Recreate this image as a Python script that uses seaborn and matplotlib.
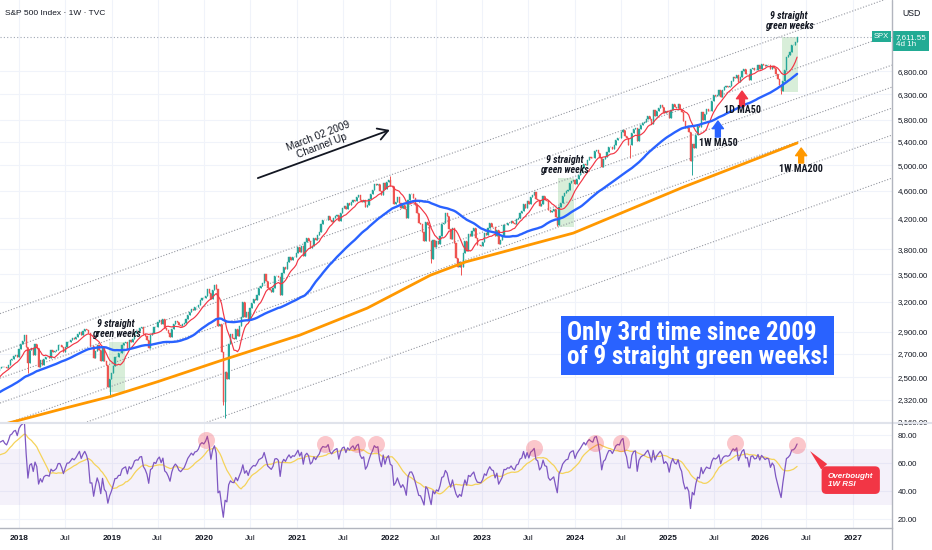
import matplotlib
matplotlib.use('Agg')
import matplotlib.pyplot as plt
import matplotlib.dates as mdates
from matplotlib import font_manager as fm
from matplotlib.lines import Line2D
from matplotlib.ticker import NullLocator
import seaborn as sns
import pandas as pd
import numpy as np

#%% weekly closes (S&P 500, one list per calendar year, weeks end on Friday)
closes_2016 = [2153, 2133, 2141, 2126, 2085, 2164, 2182, 2213, 2192, 2259, 2258, 2264, 2239]
closes_2017 = [2277, 2275, 2271, 2295, 2297, 2316, 2351, 2367, 2383, 2372, 2378, 2344, 2363,
               2355, 2329, 2349, 2384, 2399, 2390, 2382, 2416, 2439, 2432, 2433, 2438, 2423,
               2425, 2459, 2473, 2472, 2477, 2441, 2426, 2443, 2477, 2461, 2500, 2502, 2519,
               2549, 2553, 2575, 2581, 2588, 2582, 2579, 2603, 2642, 2652, 2676, 2684, 2674]
closes_2018 = [2743, 2786, 2810, 2873, 2762, 2620, 2732, 2747, 2691, 2786, 2752, 2588, 2641,
               2604, 2656, 2670, 2670, 2663, 2728, 2713, 2721, 2735, 2779, 2780, 2755, 2718,
               2760, 2801, 2802, 2819, 2840, 2833, 2850, 2875, 2902, 2872, 2905, 2930, 2914,
               2886, 2767, 2768, 2659, 2723, 2781, 2736, 2633, 2760, 2633, 2600, 2417, 2486]
closes_2019 = [2532, 2596, 2671, 2673, 2707, 2708, 2776, 2793, 2804, 2743, 2822, 2801, 2834,
               2893, 2907, 2905, 2940, 2946, 2881, 2860, 2826, 2752, 2873, 2887, 2950, 2942,
               2990, 3014, 2977, 3026, 2932, 2919, 2889, 2847, 2926, 2979, 3007, 2992, 2962,
               2952, 2970, 2986, 3023, 3067, 3093, 3120, 3110, 3141, 3146, 3169, 3221, 3240]
closes_2020 = [3235, 3265, 3330, 3295, 3226, 3328, 3380, 3338, 2954, 2972, 2711, 2305, 2541,
               2489, 2790, 2875, 2837, 2831, 2930, 2864, 2955, 3044, 3194, 3041, 3098, 3009,
               3130, 3185, 3225, 3216, 3271, 3351, 3373, 3397, 3508, 3427, 3341, 3319, 3298,
               3348, 3477, 3484, 3465, 3270, 3510, 3585, 3558, 3638, 3699, 3663, 3709, 3703, 3756]
closes_2021 = [3825, 3768, 3841, 3714, 3887, 3934, 3907, 3811, 3842, 3943, 3913, 3975, 4020,
               4129, 4185, 4180, 4181, 4233, 4174, 4156, 4204, 4230, 4247, 4166, 4281, 4352,
               4370, 4327, 4412, 4395, 4437, 4468, 4442, 4509, 4535, 4459, 4433, 4455, 4357,
               4391, 4471, 4545, 4605, 4697, 4683, 4698, 4595, 4538, 4712, 4621, 4726, 4766]
closes_2022 = [4677, 4663, 4398, 4432, 4500, 4419, 4349, 4385, 4329, 4204, 4463, 4543, 4546,
               4488, 4392, 4272, 4132, 4123, 4024, 3901, 4158, 4109, 3901, 3675, 3912, 3825,
               3899, 3863, 3962, 4130, 4145, 4280, 4228, 4058, 3924, 4067, 3873, 3693, 3586,
               3640, 3583, 3752, 3901, 3771, 3993, 3965, 4026, 4072, 3934, 3852, 3845, 3840]
closes_2023 = [3895, 3999, 3973, 4071, 4136, 4090, 4079, 3970, 4046, 3862, 3917, 3971, 4109,
               4105, 4138, 4133, 4169, 4136, 4124, 4192, 4205, 4282, 4299, 4410, 4348, 4450,
               4399, 4505, 4536, 4582, 4478, 4464, 4370, 4406, 4516, 4457, 4450, 4320, 4288,
               4308, 4327, 4224, 4117, 4358, 4415, 4514, 4559, 4595, 4604, 4719, 4755, 4770]
closes_2024 = [4697, 4784, 4840, 4891, 4959, 5027, 5006, 5089, 5137, 5124, 5117, 5234, 5254,
               5204, 5123, 4967, 5100, 5128, 5223, 5303, 5305, 5278, 5347, 5432, 5465, 5460,
               5567, 5615, 5505, 5459, 5346, 5344, 5554, 5634, 5648, 5408, 5626, 5703, 5738,
               5751, 5815, 5864, 5808, 5729, 5996, 5870, 5969, 6032, 6090, 6051, 5931, 5971]
closes_2025 = [5942, 5827, 5997, 6101, 6041, 6026, 6115, 6013, 5955, 5770, 5639, 5668, 5581,
               5074, 5363, 5283, 5525, 5687, 5660, 5958, 5803, 5912, 6000, 5977, 5968, 6173,
               6279, 6260, 6297, 6389, 6238, 6389, 6450, 6467, 6460, 6482, 6584, 6664, 6644,
               6716, 6553, 6664, 6792, 6840, 6729, 6734, 6603, 6849, 6870, 6827, 6835, 6930]
closes_2026 = [6858, 6966, 6940, 6915, 6939, 6932, 6836, 6909, 6878, 6740, 6632, 6506, 6369,
               6582, 6817, 7126, 7165, 7230, 7399, 7408, 7473, 7611.55]
last_week = '2026-05-25'

# long weekly wicks (week start, extreme price)
wick_dates = ['2018-02-05', '2018-12-24', '2020-02-17', '2020-03-16', '2020-03-23', '2022-01-03',
              '2022-06-13', '2022-10-10', '2023-10-23', '2024-08-05', '2025-04-07', '2026-03-23']
wick_prices = [2533, 2346, 3393, 2280, 2191, 4818, 3637, 3491, 4104, 5119, 4835, 6320]

# 1W MA200
ma200_dates = ['2017-10-16', '2018-06-29', '2018-12-24', '2019-07-01', '2020-03-02', '2021-01-11',
               '2021-10-04', '2022-06-10', '2022-10-27', '2023-12-25', '2025-03-03', '2026-05-25']
ma200_values = [2135, 2258, 2345, 2463, 2636, 2868, 3133, 3489, 3644, 4004, 4654, 5375]

# channel lines: price at left and right edge of the chart
chan_start_date = '2017-10-18'
chan_end_date = '2027-06-03'
chan_start = [3077, 2713, 2492, 2297, 2131, 1951, 1695]
chan_end = [8664, 7674, 6935, 6454, 6026, 5517, 4793]

# 9 straight green weeks zones
zone_start = ['2018-12-20', '2023-10-26', '2026-03-25']
zone_end = ['2019-02-24', '2023-12-29', '2026-05-27']
zone_low = [2383, 4083, 6350]
zone_high = [2806, 4793, 7611]
zone_label_date = ['2019-01-18', '2023-11-22', '2026-04-23']
zone_label_price = [2928, 5003, 8007]

# RSI overbought circles
circle_dates = ['2020-01-06', '2021-04-19', '2021-08-23', '2021-11-08', '2023-07-24',
                '2024-03-18', '2024-07-01', '2025-09-22', '2026-05-25']
circle_rsi = [76.4, 73.4, 73.4, 73.4, 70.9, 74.0, 74.0, 74.0, 72.9]

price_ticks = [2160, 2320, 2500, 2700, 2900, 3200, 3500, 3800, 4200, 4600, 5000, 5400, 5800, 6300, 6800]
rsi_ticks = [20, 40, 60, 80]
tick_dates = ['2018-01-01', '2018-07-01', '2019-01-01', '2019-07-01', '2020-01-01', '2020-07-01',
              '2021-01-01', '2021-07-01', '2022-01-01', '2022-07-01', '2023-01-01', '2023-07-01',
              '2024-01-01', '2024-07-01', '2025-01-01', '2025-07-01', '2026-01-01', '2026-07-01',
              '2027-01-01']
tick_labels = ['2018', 'Jul', '2019', 'Jul', '2020', 'Jul', '2021', 'Jul', '2022', 'Jul', '2023', 'Jul',
               '2024', 'Jul', '2025', 'Jul', '2026', 'Jul', '2027']

#%% build the frame
closes = (closes_2016 + closes_2017 + closes_2018 + closes_2019 + closes_2020 + closes_2021
          + closes_2022 + closes_2023 + closes_2024 + closes_2025 + closes_2026)
df = pd.DataFrame({'date': pd.date_range(end=last_week, periods=len(closes), freq='W-MON'),
                   'close': closes})
df['open'] = df['close'].shift(1).fillna(df['close'])
df['low'] = df[['open', 'close']].min(axis=1)
df['high'] = df[['open', 'close']].max(axis=1)
for wd, wp in zip(wick_dates, wick_prices):
    i = df['date'].searchsorted(pd.Timestamp(wd))
    df.loc[i, 'low'] = min(df.loc[i, 'low'], wp)
    df.loc[i, 'high'] = max(df.loc[i, 'high'], wp)
df['ma10'] = df['close'].rolling(10).mean()
df['ma50'] = df['close'].rolling(50).mean()
delta = df['close'].diff()
gain = delta.clip(lower=0).ewm(alpha=1/14, adjust=False).mean()
loss = (-delta.clip(upper=0)).ewm(alpha=1/14, adjust=False).mean()
df['rsi'] = 100 - 100 / (1 + gain / loss)
df['rsi_ma'] = df['rsi'].rolling(14).mean()


def d(s):
    return mdates.date2num(pd.Timestamp(s))


#%% fonts: a narrow face if one is installed, else plain Liberation Sans a bit smaller
sns.set_theme(style='white')
plt.rcParams['font.family'] = ['Liberation Sans', 'DejaVu Sans']
installed = {f.name for f in fm.fontManager.ttflist}
narrow_pick = [n for n in ['Liberation Sans Narrow', 'Roboto Condensed', 'Open Sans Condensed',
                           'Noto Sans Condensed', 'Ubuntu Condensed'] if n in installed]
if narrow_pick:
    narrow, k = [narrow_pick[0], 'DejaVu Sans'], 1.0
else:
    narrow, k = ['Liberation Sans', 'DejaVu Sans'], 0.84

ink = '#131722'
W, H = 932, 550
fig = plt.figure(figsize=(9.32, 5.5), dpi=100)
ax = fig.add_axes([0, 1 - 423 / H, 892 / W, 423 / H])
ax2 = fig.add_axes([0, 1 - 528 / H, 892 / W, 105 / H], sharex=ax)

green, red = '#26a69a', '#ef5350'
col = np.where(df['close'] >= df['open'], green, red)
ax.vlines(df['date'], df['low'], df['high'], colors=col, lw=0.7, zorder=3)
ax.bar(df['date'], (df['close'] - df['open']).abs(), bottom=df[['open', 'close']].min(axis=1),
       width=4.5, color=col, lw=0.3, edgecolor=col, zorder=3)

sns.lineplot(data=df, x='date', y='ma10', ax=ax, color='#f23645', lw=0.85, zorder=4)
sns.lineplot(data=df, x='date', y='ma50', ax=ax, color='#2962ff', lw=1.7, zorder=4)
sns.lineplot(x=pd.to_datetime(ma200_dates), y=ma200_values, ax=ax, color='#ff9800', lw=2, zorder=4)

# channel levels, all dotted
for s, e in zip(chan_start, chan_end):
    ax.plot([d(chan_start_date), d(chan_end_date)], [s, e], color='#9598a1', lw=0.8,
            ls=(0, (1, 1.6)), zorder=2)

for s, e, lo, hi in zip(zone_start, zone_end, zone_low, zone_high):
    ax.fill_between([d(s), d(e)], lo, hi, color='#81c784', alpha=0.3, lw=0, zorder=1)
for ld, lp in zip(zone_label_date, zone_label_price):
    ax.text(d(ld), lp, '9 straight\ngreen weeks', ha='center', va='center', fontsize=7.2 * k,
            style='italic', fontweight='bold', family=narrow, color=ink, linespacing=1.05, zorder=6)

ax.axhline(closes[-1], color='#a0a7b4', ls=(0, (1, 2)), lw=0.8, zorder=2)

ax.set_yscale('log')
ax.set_xlim(d(chan_start_date), d(chan_end_date))
ax.set_ylim(2152, 8580)
ax.set_yticks(price_ticks, labels=[f'{v:,.2f}' for v in price_ticks])
ax.yaxis.set_minor_locator(NullLocator())
ax.yaxis.tick_right()
ax.tick_params(axis='y', which='both', length=0, pad=4.3, labelsize=5.7, labelcolor=ink)
ax.tick_params(axis='x', length=0, labelbottom=False)
ax.set_xlabel('')
ax.set_ylabel('')
ax.grid(True, color='#f0f3fa', lw=0.8)
ax.set_axisbelow(True)

# channel arrow
ax.annotate('', xy=(d('2022-01-01'), 5609), xytext=(d('2020-07-30'), 4793),
            arrowprops=dict(arrowstyle='->,head_length=0.6,head_width=0.35', lw=1.3, color=ink,
                            shrinkA=0, shrinkB=0))
ax.text(d('2021-03-31'), 5411, 'March 02 2009\nChannel Up', rotation=21, rotation_mode='anchor',
        ha='center', va='center', fontsize=7.2, color=ink, linespacing=1.0)

# MA arrows
for xd, tip, tail, lab_p, lab, c in [('2025-07-17', 5776, 5481, 5375, '1W MA50', '#2962ff'),
                                     ('2025-10-20', 6370, 6066, 5987, '1D MA50', '#f23645'),
                                     ('2026-06-10', 5288, 5035, 4937, '1W MA200', '#ff9800')]:
    ax.annotate('', xy=(d(xd), tip), xytext=(d(xd), tail),
                arrowprops=dict(arrowstyle='simple,head_length=0.55,head_width=0.8,tail_width=0.35',
                                color=c, shrinkA=0, shrinkB=0, mutation_scale=10), zorder=6)
    ax.text(d(xd), lab_p, lab, ha='center', va='center', fontsize=7.2 * k, fontweight='bold',
            family=narrow, color=ink, zorder=6)

ax.text(d('2025-04-28'), 2773, 'Only 3rd time since 2009\nof 9 straight green weeks!', ha='center',
        va='center', multialignment='left', fontsize=18 * k, fontweight='bold', family=narrow,
        color='white', linespacing=1.0, zorder=7,
        bbox=dict(boxstyle='square,pad=0.22', fc='#2962ff', ec='none'))

ax.text(0.0056, 0.969, 'S&P 500 Index · 1W · TVC', transform=ax.transAxes, fontsize=6,
        color=ink, va='center')
teal = '#22ab94'
ax.annotate(f'{closes[-1]:,.2f}\n4d 1h', xy=(1, closes[-1]), xycoords=('axes fraction', 'data'),
            xytext=(2.6, -3.2), textcoords='offset points', ha='left', va='center', fontsize=5.8,
            color='white', linespacing=1.15, annotation_clip=False,
            bbox=dict(boxstyle='square,pad=0.35', fc=teal, ec='none'))
ax.annotate('SPX', xy=(1, closes[-1]), xycoords=('axes fraction', 'data'), xytext=(-2.2, 0),
            textcoords='offset points', ha='right', va='center', fontsize=5.5, color='white',
            bbox=dict(boxstyle='square,pad=0.25', fc=teal, ec='none'), zorder=7)
fig.text(902 / W, 1 - 13 / H, 'USD', fontsize=6.3, va='center', color=ink)

#%% RSI panel
ax2.axhspan(30, 70, color='#7e57c2', alpha=0.08, lw=0)
sns.lineplot(data=df, x='date', y='rsi_ma', ax=ax2, color='#f5d35a', lw=0.9)
sns.lineplot(data=df, x='date', y='rsi', ax=ax2, color='#7e57c2', lw=0.9)
ax2.scatter([d(c) for c in circle_dates], circle_rsi, s=150, color='#f23645', alpha=0.28, lw=0,
            zorder=5)
ax2.annotate('Overbought\n1W RSI', xy=(d('2026-07-15'), 68.6), xytext=(d('2026-09-24'), 47.9),
             ha='left', va='center', fontsize=5.8, fontweight='bold', style='italic',
             color='white', linespacing=1.15, annotation_clip=False,
             bbox=dict(boxstyle='round,pad=0.8,rounding_size=0.6', fc='#f23645', ec='none'),
             arrowprops=dict(arrowstyle='wedge,tail_width=1.0,shrink_factor=0.5', fc='#f23645',
                             ec='none', relpos=(0.05, 0.95), shrinkA=0, shrinkB=0))
ax2.set_ylim(13.8, 88.6)
ax2.set_yticks(rsi_ticks, labels=[f'{v:.2f}' for v in rsi_ticks])
ax2.yaxis.tick_right()
ax2.tick_params(axis='y', length=0, pad=4.3, labelsize=5.7, labelcolor=ink)
ax2.set_xticks([d(t) for t in tick_dates])
ax2.set_xticklabels(tick_labels)
ax2.tick_params(axis='x', length=0, pad=5, labelsize=6, labelcolor=ink)
for t, lab in zip(ax2.get_xticklabels(), tick_labels):
    if lab != 'Jul':
        t.set_fontweight('bold')
ax2.set_xlim(d(chan_start_date), d(chan_end_date))
ax2.set_xlabel('')
ax2.set_ylabel('')
ax2.grid(True, color='#f0f3fa', lw=0.8)
ax2.set_axisbelow(True)

for a in (ax, ax2):
    for sp in a.spines.values():
        sp.set_visible(False)
ax2.spines['bottom'].set_visible(True)
ax2.spines['bottom'].set_color('#b2b5be')
ax2.spines['bottom'].set_linewidth(1)
fig.add_artist(Line2D([0, 1], [1 - 423 / H] * 2, color='#e0e3eb', lw=1.5))
fig.add_artist(Line2D([892 / W] * 2, [0, 1], color='#b2b5be', lw=1))

fig.savefig('out.png', dpi=100)
